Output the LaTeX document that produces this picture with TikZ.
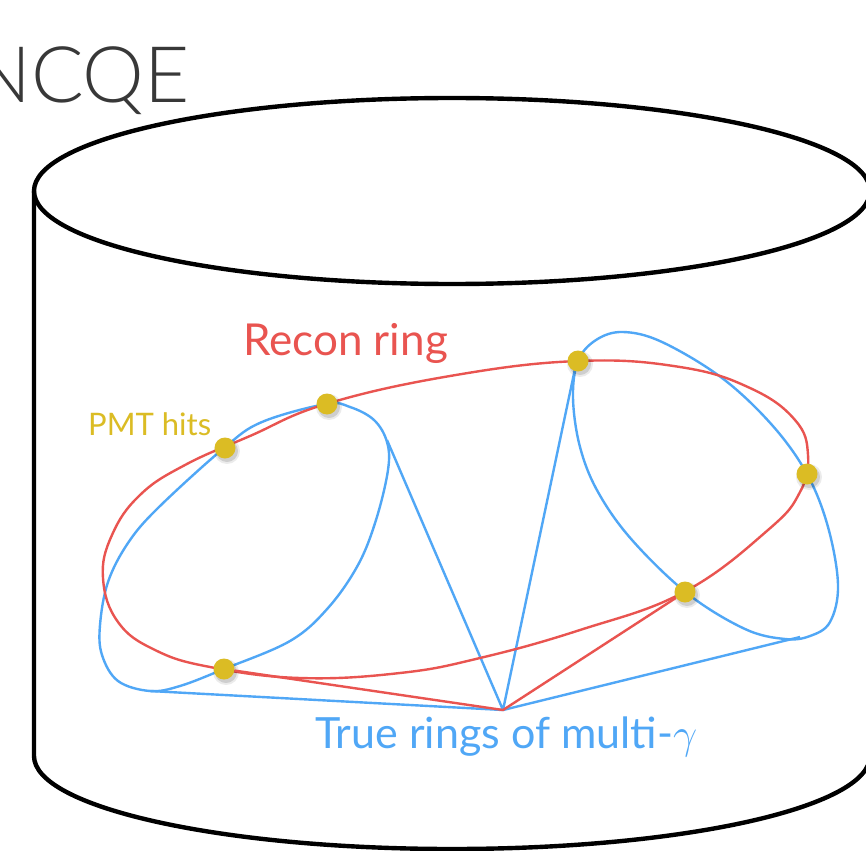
\RequirePackage{fix-cm}
\documentclass[tikz,border=0pt]{standalone}
\usepackage{fontspec}
\usetikzlibrary{calc}
\setmainfont{Lato}
\newfontfamily\titlefont{Lato Light}
\definecolor{recon}{RGB}{233,84,80}
\definecolor{truering}{RGB}{80,167,246}
\definecolor{hit}{RGB}{219,188,36}
\definecolor{titlegray}{RGB}{56,56,56}
\tikzset{
  tank/.style={line width=4.4pt, black},
  reconline/.style={line width=2.4pt, recon, line join=round},
  trueline/.style={line width=2.4pt, truering, line join=round},
  hitdot/.style={circle, fill=hit, minimum size=21pt, inner sep=0pt},
  lbl/.style={inner sep=0pt, anchor=base west}
}
\begin{document}
\begin{tikzpicture}[x=1pt, y=-1pt]
\clip (0,0) rectangle (866,850);
\fill[white] (0,0) rectangle (866,850);

% title
\node[anchor=base east, inner sep=0pt, text=titlegray, font=\titlefont\fontsize{78}{80}\selectfont] (title) at (190,103) {NCQE};

% detector tank
\draw[tank] (452,191) ellipse [x radius=418pt, y radius=93pt];
\draw[tank] (34,191) -- (34,756) arc[start angle=180, end angle=360, x radius=418pt, y radius=93pt] -- (870,191);

% common vertex
\coordinate (V) at (503,710);

% true rings (blue)
\draw[trueline] plot[smooth cycle, tension=0.6] coordinates {
  (326,404) (350,407) (374,420) (387,442) (388,470) (376,520) (358,565)
  (328,608) (290,641) (224,669) (180,686) (150,691) (118,681) (102,655)
  (100,625) (108,582) (128,543) (158,508) (224,448) (262,422)};
\draw[trueline] plot[smooth cycle, tension=0.6] coordinates {
  (578,361) (596,340) (623,332) (662,342) (722,378) (772,425) (807,474)
  (828,527) (838,585) (830,622) (810,636) (785,639) (745,629) (688,594)
  (632,540) (598,492) (580,447) (573,398)};
\coordinate (L1) at (150,691);
\coordinate (L2) at (387,440);
\coordinate (R1) at (800,637);
\coordinate (R2) at (576,364);
\draw[trueline] (L1) -- (V) -- (R1);
\draw[trueline] (L2) -- (V) -- (R2);

% reconstructed ring (red)
\draw[reconline] plot[smooth cycle, tension=0.7] coordinates {
  (103,578) (112,535) (140,495) (185,465) (250,436) (326,404) (450,376) (578,361)
  (680,367) (750,388) (795,420) (808,455) (800,492) (768,530) (684,592)
  (580,630) (480,658) (400,673) (300,678) (210,667) (155,650) (118,622)};

% PMT hits
\foreach \n/\p in {h1/{(225,448)}, h2/{(327,404)}, h3/{(578,361)}, h4/{(807,474)}, h5/{(685,592)}, h6/{(224,669)}} {
  \path \p coordinate (s\n);
  \fill[black, opacity=0.08] ($(s\n)+(2,3)$) circle (13pt);
  \fill[black, opacity=0.12] ($(s\n)+(2,3)$) circle (11pt);
}
\foreach \n/\p in {h1/{(225,448)}, h2/{(327,404)}, h3/{(578,361)}, h4/{(807,474)}, h5/{(685,592)}, h6/{(224,669)}} {
  \node[hitdot] (\n) at \p {};
}
\draw[reconline] (h6) -- (V) -- (h5);

% labels
\node[lbl, text=recon, font=\fontsize{44}{50}\selectfont] (reconlbl) at (243,355) {Recon ring};
\node[lbl, text=hit, font=\fontsize{31}{36}\selectfont] (hitlbl) at (88,435) {PMT hits};
\node[lbl, text=truering, font=\fontsize{43}{50}\selectfont] (truelbl) at (315,748) {True rings of multi-$\gamma$};
\end{tikzpicture}
\end{document}
